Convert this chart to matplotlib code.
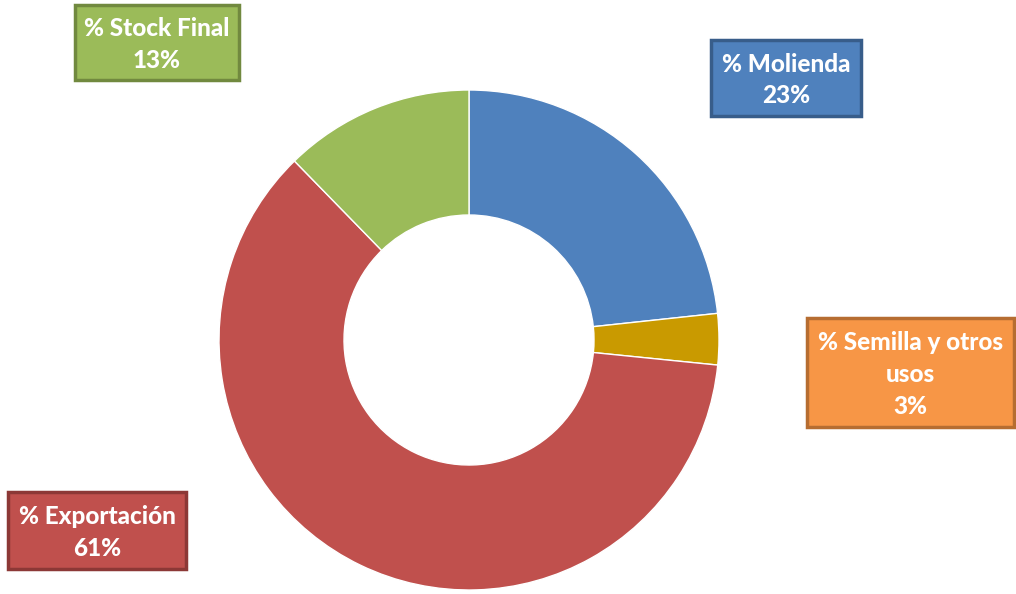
import matplotlib
matplotlib.use("Agg")
import matplotlib.pyplot as plt
from matplotlib.patches import Rectangle

# Data
labels = ["% Molienda", "% Semilla y otros\nusos", "% Exportación", "% Stock Final"]
values = [23.3, 3.3, 61.1, 12.3]
shown_pct = ["23%", "3%", "61%", "13%"]

wedge_colors = ["#4F81BD", "#C99A00", "#C0504D", "#9BBB59"]
box_faces = ["#4F81BD", "#F79646", "#C0504D", "#9BBB59"]
box_edges = ["#385D8A", "#B66D31", "#8C3836", "#71893F"]
# label boxes in pixel coords (x0, y0 from top, w, h)
boxes = [(711, 40, 150, 76), (807, 318, 207, 109), (8, 492, 178, 77), (75, 5, 164, 75)]

W, H = 1016, 594
fig = plt.figure(figsize=(W / 100, H / 100), dpi=100)
ax = fig.add_axes([0, 0, 1, 1])
ax.set_xlim(0, W)
ax.set_ylim(0, H)
ax.set_aspect("equal")
ax.axis("off")

ax.pie(values, colors=wedge_colors, startangle=90, counterclock=False,
       center=(469, H - 340), radius=250,
       wedgeprops=dict(width=125, edgecolor="white", linewidth=1))
ax.set_xlim(0, W)
ax.set_ylim(0, H)

for lab, pct, face, edge, (x0, y0, w, h) in zip(labels, shown_pct, box_faces, box_edges, boxes):
    ax.add_patch(Rectangle((x0, H - y0 - h), w, h, facecolor=face,
                           edgecolor=edge, linewidth=2.5, zorder=3))
    ax.text(x0 + w / 2, H - y0 - h / 2 - 2, f"{lab}\n{pct}", ha="center", va="center",
            color="white", fontsize=17.5, fontweight="black", family="Lato",
            linespacing=1.45, zorder=4)

plt.savefig("out.png", dpi=100)
plt.close()
